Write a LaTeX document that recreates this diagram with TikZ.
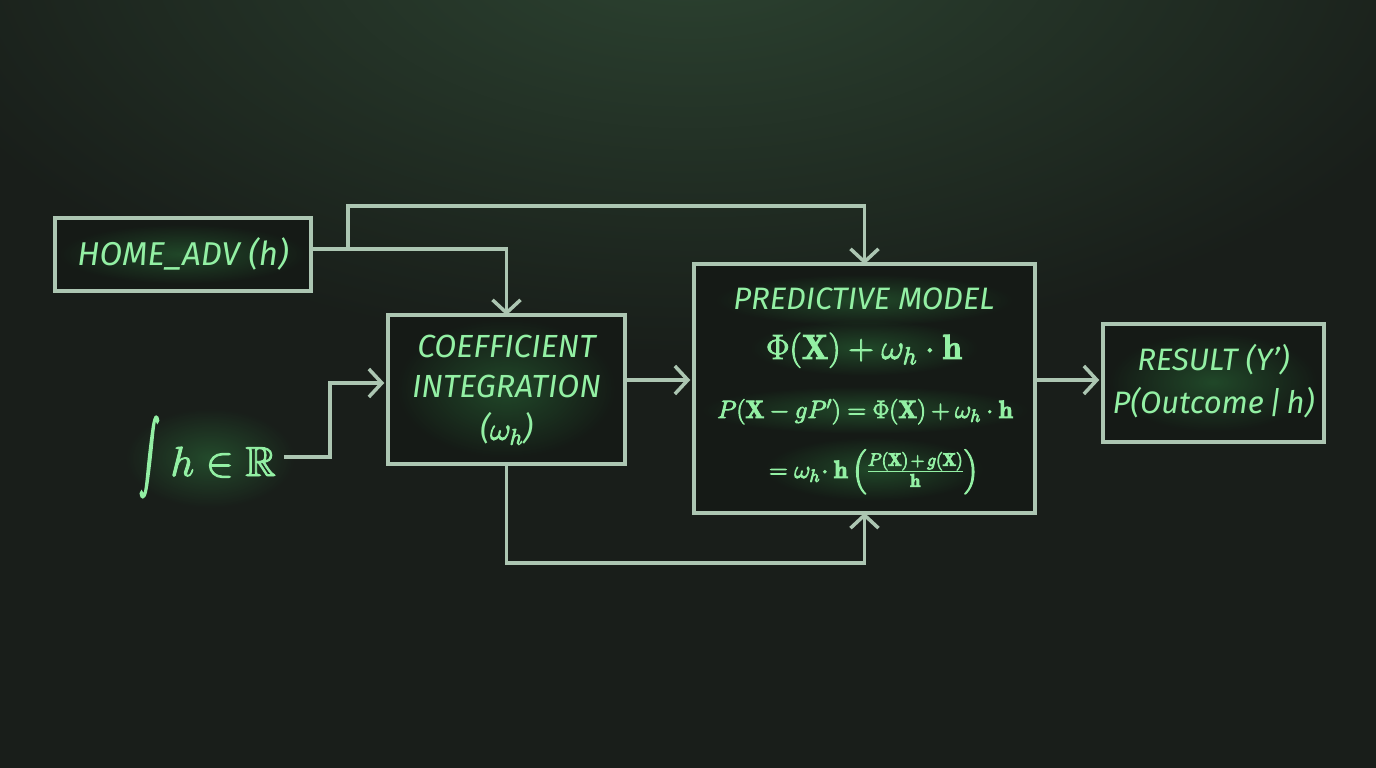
\RequirePackage{fix-cm}
\documentclass[tikz,border=0pt]{standalone}
\usepackage{amsmath,amssymb}
\usepackage{exscale}
\usepackage{graphicx}
\usepackage{fontspec}
\newfontfamily\chalk{Fira Sans}
\usetikzlibrary{arrows.meta,fadings,calc}
\definecolor{bgc}{HTML}{191E1A}
\definecolor{topc}{HTML}{2F4834}
\definecolor{boxc}{HTML}{151A16}
\definecolor{linec}{HTML}{ACC6B2}
\definecolor{txtc}{HTML}{93F0A4}
\definecolor{glowc}{HTML}{3FBF5A}
\newcommand\heavytxt[1]{\special{pdf:literal direct 2 Tr 0.9 w}#1\special{pdf:literal direct 0 Tr}}
\tikzfading[name=glowfade, inner color=transparent!0, outer color=transparent!100]
\begin{document}
\begin{tikzpicture}[x=1pt,y=-1pt,
  box/.style={draw=linec, line width=3.5pt, fill=boxc, inner sep=0pt, text=txtc, align=center},
  conn/.style={draw=linec, line width=3.5pt, line join=miter},
  arr/.style={conn, -{Straight Barb[length=13pt,width=28pt]}},
  lbl/.style={text=txtc, inner sep=0pt, align=center},
  chalktxt/.style={font=\chalk\itshape\fontsize{#1}{39}\selectfont},
  glow/.style={fill=glowc, path fading=glowfade, fill opacity=0.28}
]
\useasboundingbox (0,0) rectangle (1376,768);
\fill[bgc] (0,0) rectangle (1376,768);
\begin{scope}
\clip (0,0) rectangle (1376,768);
\fill[topc, path fading=glowfade, fill opacity=0.9] (690,-60) ellipse (820 and 420);
\end{scope}

% boxes
\node[box, minimum width=256pt, minimum height=73pt] (home) at (183,254.5) {};
\node[box, minimum width=237pt, minimum height=149pt] (coef) at (506.5,389.5) {};
\node[box, minimum width=341pt, minimum height=249pt] (pred) at (864.5,388.5) {};
\node[box, minimum width=221pt, minimum height=118pt] (res) at (1213.5,383) {};

% glows
\fill[glow] (183,254) ellipse (125 and 30);
\fill[glow] (506,388) ellipse (110 and 70);
\fill[glow] (864,300) ellipse (150 and 26);
\fill[glow] (864,348) ellipse (115 and 28);
\fill[glow] (865,410) ellipse (165 and 24);
\fill[glow] (874,469) ellipse (110 and 32);
\fill[glow] (1213,382) ellipse (105 and 50);
\fill[glow] (210,458) ellipse (85 and 50);

% texts
\node[lbl, chalktxt=33] (homet) at (183,254) {HOME\_ADV (h)};
\node[lbl, chalktxt=32] (coeft) at (506.5,390) {COEFFICIENT\\[1pt]INTEGRATION\\[3pt](\heavytxt{$\omega_h$})};
\node[lbl, chalktxt=31, anchor=base] (predt) at (864,309) {PREDICTIVE MODEL};
\node[lbl, anchor=base, font=\fontsize{35}{40}\selectfont] (f1) at (864,359)
  {\heavytxt{$\Phi(\mathbf{X}) + \omega_h \cdot \mathbf{h}$}};
\node[lbl, anchor=base, font=\fontsize{25}{30}\selectfont] (f2) at (865,418)
  {\heavytxt{$P(\mathbf{X} - gP') = \Phi(\mathbf{X}) + \omega_h \cdot \mathbf{h}$}};
\node[lbl, anchor=base, font=\fontsize{25}{30}\selectfont] (f3) at (874,478)
  {\heavytxt{$= \omega_h\!\cdot\mathbf{h}\left(\frac{\text{\fontsize{18}{21}\selectfont$P(\mathbf{X})\,{+}\,g(\mathbf{X})$}}{\text{\fontsize{18}{21}\selectfont$\mathbf{h}$}}\right)$}};
\node[lbl, chalktxt=31] (rest) at (1213.5,381) {RESULT (Y’)\\[4pt]P(Outcome\,|\,h)};
\node[lbl, anchor=east, inner xsep=8pt] (int) at (284,457)
  {\heavytxt{\raisebox{-21pt}{\resizebox*{20pt}{80pt}{\raisebox{\depth}{$\displaystyle\int$}}}\hspace{11pt}\fontsize{42}{46}\selectfont$h\in\mathbb{R}$}};

% connectors
\coordinate (j1) at (348,249);
\coordinate (ttop) at (0,206);
\coordinate (tbot) at (0,563);
\coordinate (k1) at (330,383);
\coordinate (m1) at (0,380);
\draw[arr] (home.east |- j1) -- (j1) -- (coef.north |- j1) -- ([yshift=-2pt]coef.north);
\draw[arr] (j1) -- (j1 |- ttop) -- (pred.north |- ttop) -- ([yshift=-2pt]pred.north);
\draw[arr] (int.east) -| (k1) -- ([xshift=-2pt]k1 -| coef.west);
\draw[arr] (coef.east |- m1) -- ([xshift=-2pt]pred.west |- m1);
\draw[arr] (pred.east |- m1) -- ([xshift=-2pt]res.west |- m1);
\draw[arr] (coef.south) -- (coef.south |- tbot) -- (pred.south |- tbot) -- ([yshift=2pt]pred.south);
\end{tikzpicture}
\end{document}
